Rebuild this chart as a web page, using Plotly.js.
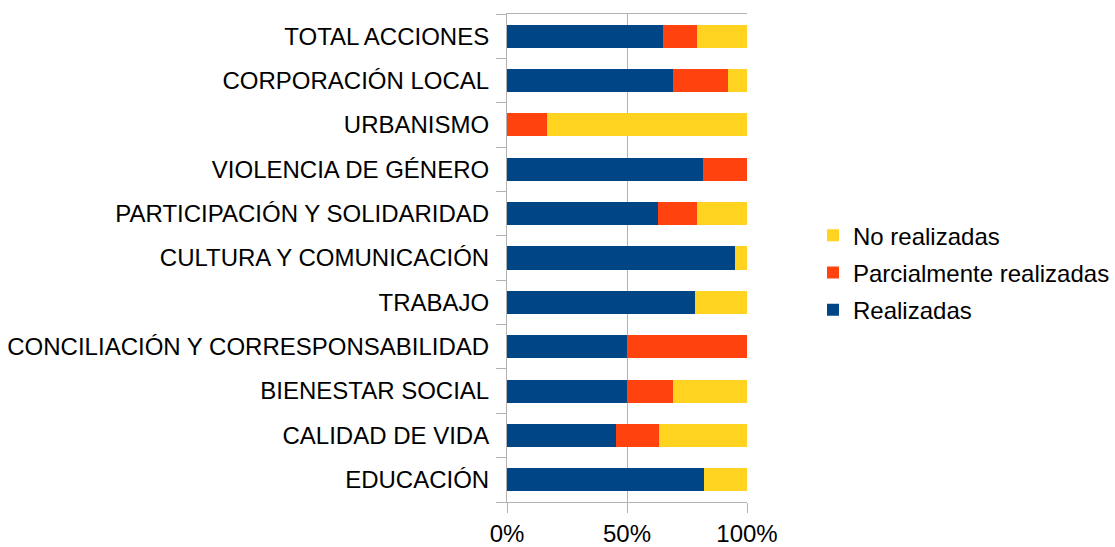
<!DOCTYPE html>
<html>
<head>
<meta charset="utf-8">
<script src="https://cdn.plot.ly/plotly-3.0.1.min.js"></script>
<style>html,body{margin:0;padding:0;background:#fff;}#chart{width:1115px;height:547px;}</style>
</head>
<body>
<div id="chart"></div>
<script>
const categories = [
  "EDUCACIÓN",
  "CALIDAD DE VIDA",
  "BIENESTAR SOCIAL",
  "CONCILIACIÓN Y CORRESPONSABILIDAD",
  "TRABAJO",
  "CULTURA Y COMUNICACIÓN",
  "PARTICIPACIÓN Y SOLIDARIDAD",
  "VIOLENCIA DE GÉNERO",
  "URBANISMO",
  "CORPORACIÓN LOCAL",
  "TOTAL ACCIONES"
];
const realizadas = [82, 45.5, 50, 50, 78.5, 95, 63, 81.5, 0, 69, 65];
const parcialmente = [0, 18, 19, 50, 0, 0, 16, 18.5, 16.7, 23, 14];
const noRealizadas = [18, 36.5, 31, 0, 21.5, 5, 21, 0, 83.3, 8, 21];
const xTickVals = [0, 50, 100];
const xTickText = ["0%", "50%", "100%"];

const font = {family: "Liberation Sans, Arial, sans-serif", size: 24, color: "#000"};

const traces = [
  {name: "Realizadas", y: categories, x: realizadas, color: "#004586", rank: 3},
  {name: "Parcialmente realizadas", y: categories, x: parcialmente, color: "#FF420E", rank: 2},
  {name: "No realizadas", y: categories, x: noRealizadas, color: "#FFD320", rank: 1}
].map(t => ({
  type: "bar", orientation: "h", name: t.name, x: t.x, y: t.y, legendgroup: t.name,
  legendrank: t.rank,
  marker: {color: t.color, line: {width: 0}}, hoverinfo: "x+y+name"
}));

const layout = {
  width: 1115, height: 547,
  margin: {l: 507, r: 368, t: 14, b: 45, pad: 0, autoexpand: false},
  paper_bgcolor: "#fff", plot_bgcolor: "#fff",
  barmode: "stack", bargap: 0.48,
  font: font,
  showlegend: true,
  legend: {x: 1.275, xanchor: "left", y: 0.47, yanchor: "middle", xref: "paper",
           traceorder: "grouped", font: font, itemwidth: 30, tracegroupgap: 3,
           bgcolor: "rgba(0,0,0,0)", borderwidth: 0},
  xaxis: {
    range: [0, 100], tickvals: xTickVals, ticktext: xTickText,
    showgrid: true, gridcolor: "#b3b3b3", gridwidth: 1,
    zeroline: false, showline: true, linecolor: "#b3b3b3", linewidth: 1, mirror: true,
    ticks: "outside", ticklen: 10, tickcolor: "#b3b3b3", tickwidth: 1,
    tickfont: font, fixedrange: true, automargin: false
  },
  yaxis: {
    type: "category", categoryorder: "array", categoryarray: categories,
    showgrid: false, zeroline: false, showline: true, linecolor: "#b3b3b3", linewidth: 1,
    ticks: "outside", tickson: "boundaries", ticklen: 10, tickcolor: "#b3b3b3", tickwidth: 1,
    tickfont: font, ticklabelstandoff: 12, fixedrange: true, automargin: false
  }
};

Plotly.newPlot("chart", traces, layout, {displayModeBar: false, staticPlot: true});
</script>
</body>
</html>
